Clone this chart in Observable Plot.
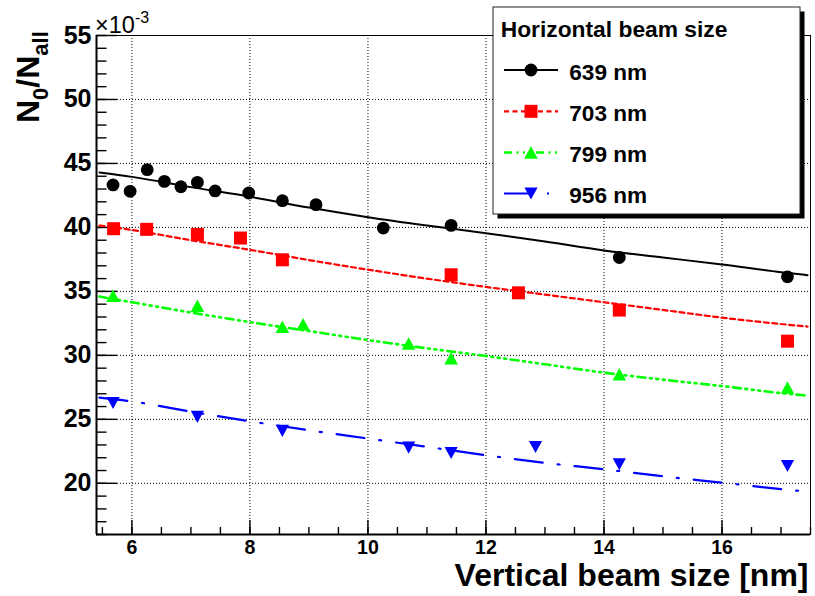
<!DOCTYPE html>
<html><head><meta charset="utf-8">
<script src="https://cdn.jsdelivr.net/npm/d3@7"></script>
<script src="https://cdn.jsdelivr.net/npm/@observablehq/plot@0.6"></script>
<style>
body{margin:0;background:#fff;}
#wrap{position:relative;width:815px;height:596px;overflow:hidden;}
#wrap svg{position:absolute;left:0;top:0;}
</style></head><body><div id="wrap"></div>
<script>
const FONT = '"Liberation Sans", Arial, Helvetica, sans-serif';

// axes
const xDomain = [5.4, 17.5];
const yDomain = [16, 55];
const xTicks = [6, 8, 10, 12, 14, 16];
const yTicks = [20, 25, 30, 35, 40, 45, 50, 55];
const xMinorTicks = d3.range(5.5, 17.51, 0.5);
const yMinorTicks = d3.range(16, 55.1, 1);

// series labels
const seriesLabels = ["639 nm", "703 nm", "799 nm", "956 nm"];

// measured points (vertical beam size [nm], N0/Nall x1e-3)
const x639 = [5.68, 5.97, 6.26, 6.55, 6.83, 7.11, 7.41, 7.98, 8.55, 9.12, 10.26, 11.41, 14.26, 17.11];
const y639 = [43.32, 42.82, 44.51, 43.6, 43.18, 43.52, 42.85, 42.69, 42.09, 41.78, 39.95, 40.16, 37.65, 36.14];
const x703 = [5.69, 6.25, 7.11, 7.84, 8.55, 11.41, 12.55, 14.26, 17.11];
const y703 = [39.9, 39.85, 39.45, 39.17, 37.47, 36.3, 34.89, 33.54, 31.11];
const x799 = [5.68, 7.11, 8.55, 8.9, 10.69, 11.41, 14.26, 17.11];
const y799 = [34.66, 33.87, 32.23, 32.44, 30.92, 29.78, 28.53, 27.48];
const x956 = [5.68, 7.11, 8.55, 10.69, 11.41, 12.84, 14.26, 17.11];
const y956 = [26.28, 25.19, 24.1, 22.79, 22.37, 22.84, 21.49, 21.35];

// fitted curves
const fitX   = [5.45, 6, 7, 8, 9, 10, 11, 12, 13, 14, 15, 16, 17, 17.45];
const fit639 = [44.3, 43.95, 43.15, 42.4, 41.55, 40.8, 40.15, 39.55, 38.9, 38.2, 37.65, 37.1, 36.5, 36.27];
const fit703 = [40.15, 39.8, 39.0, 38.25, 37.45, 36.7, 36.0, 35.35, 34.75, 34.15, 33.55, 32.95, 32.45, 32.25];
const fit799 = [34.6, 34.15, 33.35, 32.6, 31.9, 31.2, 30.55, 29.95, 29.3, 28.65, 28.1, 27.6, 27.05, 26.85];
const fit956 = [26.7, 26.4, 25.6, 24.85, 24.15, 23.5, 22.85, 22.2, 21.6, 21.1, 20.55, 20.05, 19.55, 19.35];

// custom marker shapes
const symSquare = {draw(ctx, size){const r = Math.sqrt(size/Math.PI); ctx.moveTo(-r,-r); ctx.lineTo(r,-r); ctx.lineTo(r,r); ctx.lineTo(-r,r); ctx.closePath();}};
const symTriUp = {draw(ctx, size){const r = Math.sqrt(size/Math.PI), h = r*0.92; ctx.moveTo(0,-h); ctx.lineTo(r,h); ctx.lineTo(-r,h); ctx.closePath();}};
const symTriDown = {draw(ctx, size){const r = Math.sqrt(size/Math.PI), h = r*0.92; ctx.moveTo(0,h); ctx.lineTo(r,-h); ctx.lineTo(-r,-h); ctx.closePath();}};

const styles = [
  {color: "#000000", dash: null, width: 2, symbol: "circle", r: 6.4},
  {color: "#ff0000", dash: "5,3.5", width: 2.2, symbol: symSquare, r: 6.5},
  {color: "#00ff00", dash: "8,4.5,2,4.5,2,4.5,2,4.5", width: 2.6, symbol: symTriUp, r: 6.8},
  {color: "#0000ff", dash: "28,15,2,15", width: 2.2, symbol: symTriDown, r: 6.6}
];

const pts = [[x639,y639],[x703,y703],[x799,y799],[x956,y956]].map(([xs,ys]) => xs.map((x,i)=>({x, y: ys[i]})));
const fits = [fit639, fit703, fit799, fit956].map(f => fitX.map((x,i)=>({x, y: f[i]})));

const W = 815, H = 596, mL = 96, mR = 5, mT = 35, mB = 62;
const plotW = W - mL - mR, plotH = H - mT - mB;

const marks = [
  Plot.ruleX(xTicks, {x: d=>d, stroke: "#000", strokeWidth: 1, strokeDasharray: "1,2"}),
  Plot.ruleY(yTicks, {y: d=>d, stroke: "#000", strokeWidth: 1, strokeDasharray: "1,2"}),
  Plot.tickX(xMinorTicks, {x: d=>d, insetTop: plotH - 7, stroke: "#000", strokeWidth: 1.4}),
  Plot.tickX(xTicks, {x: d=>d, insetTop: plotH - 14, stroke: "#000", strokeWidth: 1.4}),
  Plot.tickY(yMinorTicks, {y: d=>d, insetRight: plotW - 10.5, stroke: "#000", strokeWidth: 1.4}),
  Plot.tickY(yTicks, {y: d=>d, insetRight: plotW - 21, stroke: "#000", strokeWidth: 1.4}),
  Plot.frame({stroke: "#000", strokeWidth: 1}),
  Plot.ruleX([xDomain[0]], {x: d=>d, stroke: "#000", strokeWidth: 2}),
  Plot.ruleY([yDomain[0]], {y: d=>d, stroke: "#000", strokeWidth: 2}),
];
fits.forEach((f, k) => {
  const s = styles[k];
  marks.push(Plot.line(f, {x: "x", y: "y", curve: "monotone-x", stroke: s.color, strokeWidth: s.width, strokeDasharray: s.dash ?? undefined}));
});
pts.forEach((p, k) => {
  const s = styles[k];
  marks.push(Plot.dot(p, {x: "x", y: "y", r: s.r, symbol: s.symbol, fill: s.color, stroke: "none"}));
});
marks.push(
  Plot.text(xTicks, {x: d=>d, text: d=>String(d), frameAnchor: "bottom", dy: 19.5, lineAnchor: "bottom", fontSize: 19.5, fontWeight: "bold", fill: "#000", fontFamily: FONT}),
  Plot.text(yTicks, {y: d=>d, text: d=>String(d), frameAnchor: "left", dx: -5, textAnchor: "end", fontSize: 25, fontWeight: "bold", fill: "#000", fontFamily: FONT}),
  Plot.text(["Vertical beam size [nm]"], {frameAnchor: "bottom-right", dx: -2, dy: 51.5, lineAnchor: "bottom", textAnchor: "end", fontSize: 32, fontWeight: "bold", fill: "#000", fontFamily: FONT})
);

const chart = Plot.plot({
  width: W, height: H,
  marginLeft: mL, marginRight: mR, marginTop: mT, marginBottom: mB,
  style: {fontFamily: FONT, background: "#fff", overflow: "visible"},
  x: {domain: xDomain, axis: null},
  y: {domain: yDomain, axis: null},
  marks
});
document.getElementById("wrap").appendChild(chart);

const svg = d3.select(chart);
// y title
const yt = svg.append("text").attr("transform", "translate(39.3,123) rotate(-90)")
  .attr("text-anchor", "start").style("text-anchor", "start")
  .attr("font-family", FONT).attr("font-weight", "bold").attr("font-size", 32).attr("fill", "#000");
yt.append("tspan").text("N");
yt.append("tspan").attr("font-size", 22).attr("dy", 9).text("0");
yt.append("tspan").attr("dy", -9).text("/N");
yt.append("tspan").attr("font-size", 22).attr("dy", 9).text("all");
// exponent
const ex = svg.append("text").attr("x", 95).attr("y", 33.3)
  .attr("text-anchor", "start").style("text-anchor", "start")
  .attr("font-family", FONT).attr("font-size", 23.5).attr("fill", "#000");
ex.append("tspan").text("\u00d710");
ex.append("tspan").attr("font-size", 16).attr("dy", -10).text("-3");

// legend overlay
const lg = d3.select("#wrap").append("svg").attr("width", W).attr("height", H).style("pointer-events", "none");
const bx = 493, by = 7, bw = 307, bh = 207;
lg.append("rect").attr("x", bx + 4.5).attr("y", by + 4.5).attr("width", bw).attr("height", bh).attr("fill", "#000");
lg.append("rect").attr("x", bx).attr("y", by).attr("width", bw).attr("height", bh).attr("fill", "#fff").attr("stroke", "#222").attr("stroke-width", 1);
lg.append("text").attr("x", 500.7).attr("y", 37.3).attr("text-anchor", "start").attr("font-family", FONT).attr("font-weight", "bold").attr("font-size", 22.8).attr("fill", "#000").text("Horizontal beam size");
const rowY = [70, 111.3, 152.5, 193.5];
seriesLabels.forEach((lab, k) => {
  const s = styles[k], cy = rowY[k];
  const ln = lg.append("line").attr("x1", 504).attr("x2", 558).attr("y1", cy).attr("y2", cy)
    .attr("stroke", s.color).attr("stroke-width", s.width);
  if (s.dash) ln.attr("stroke-dasharray", s.dash);
  const sym = typeof s.symbol === "string" ? d3.symbolCircle : s.symbol;
  lg.append("path").attr("transform", `translate(531,${cy})`).attr("d", d3.symbol(sym, s.r*s.r*Math.PI)()).attr("fill", s.color);
  lg.append("text").attr("x", 569.3).attr("y", cy + 9.5).attr("text-anchor", "start").attr("font-family", FONT).attr("font-weight", "bold").attr("font-size", 22.6).attr("fill", "#000").text(lab);
});
</script></body></html>
